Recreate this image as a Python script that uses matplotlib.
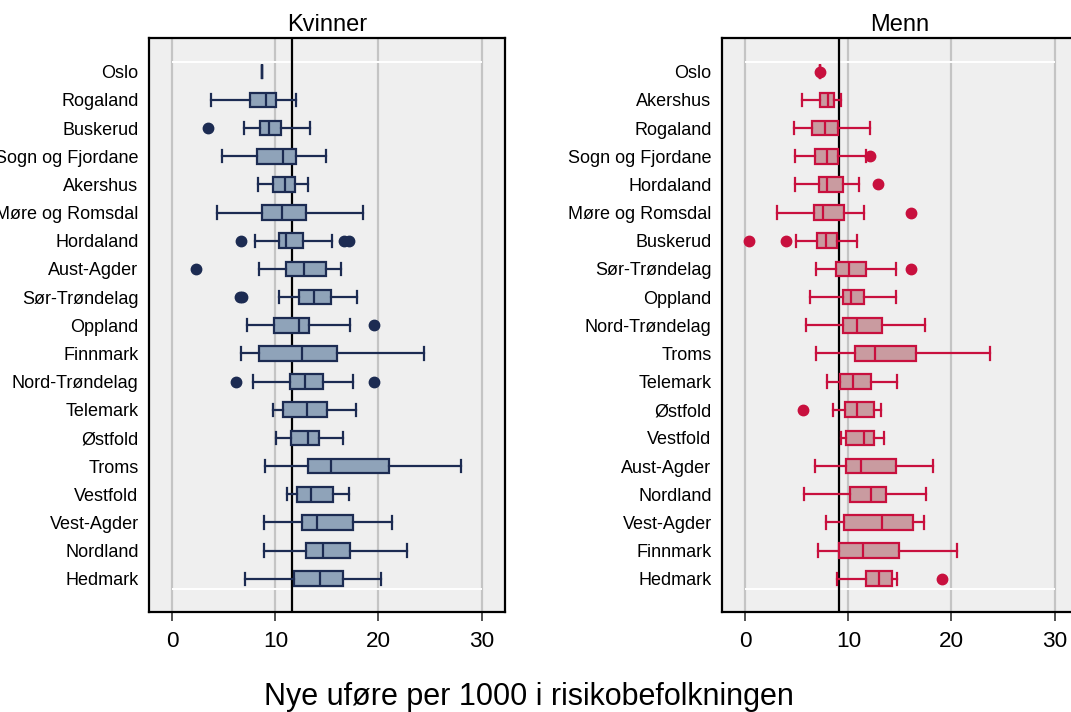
import matplotlib
matplotlib.use("Agg")
import matplotlib.pyplot as plt

plt.rcParams['font.family'] = ['Liberation Sans', 'DejaVu Sans']

# ---------------- data ----------------
# Kvinner: order top -> bottom
k_names = ["Oslo", "Rogaland", "Buskerud", "Sogn og Fjordane", "Akershus",
           "Møre og Romsdal", "Hordaland", "Aust-Agder", "Sør-Trøndelag",
           "Oppland", "Finnmark", "Nord-Trøndelag", "Telemark", "Østfold",
           "Troms", "Vestfold", "Vest-Agder", "Nordland", "Hedmark"]
k_whislo = [8.70, 3.78, 6.92, 4.85, 8.34, 4.33, 8.02, 8.44, 10.38, 7.24, 6.63, 7.82, 9.76, 10.02, 9.02, 11.09, 8.86, 8.86, 7.05]
k_q1     = [8.70, 7.50, 8.50, 8.18, 9.76, 8.73, 10.35, 11.02, 12.32, 9.89, 8.37, 11.45, 10.70, 11.51, 13.13, 12.09, 12.54, 12.93, 11.83]
k_med    = [8.70, 9.05, 9.38, 10.77, 10.93, 10.64, 10.99, 12.74, 13.77, 12.25, 12.61, 12.90, 13.03, 13.19, 15.36, 13.42, 14.00, 14.61, 14.35]
k_q3     = [8.70, 10.09, 10.57, 11.96, 11.90, 12.93, 12.64, 14.87, 15.39, 13.22, 15.94, 14.58, 15.00, 14.23, 21.02, 15.58, 17.56, 17.23, 16.55]
k_whishi = [8.70, 11.96, 13.32, 14.87, 13.16, 18.49, 15.45, 16.39, 17.88, 17.26, 24.38, 17.52, 17.81, 16.52, 27.97, 17.17, 21.31, 22.76, 20.21]
k_fliers = [[], [], [3.49], [], [], [], [6.69, 16.7, 17.1], [2.26], [6.6, 6.8],
            [19.56], [], [6.14, 19.59], [], [], [], [], [], [], []]
k_ref = 11.64

# Menn: order top -> bottom
m_names = ["Oslo", "Akershus", "Rogaland", "Sogn og Fjordane", "Hordaland",
           "Møre og Romsdal", "Buskerud", "Sør-Trøndelag", "Oppland",
           "Nord-Trøndelag", "Troms", "Telemark", "Østfold", "Vestfold",
           "Aust-Agder", "Nordland", "Vest-Agder", "Finnmark", "Hedmark"]
m_whislo = [7.21, 5.53, 4.75, 4.85, 4.85, 3.07, 4.95, 6.85, 6.30, 5.85, 6.89, 7.95, 8.54, 9.28, 6.76, 5.69, 7.86, 7.05, 8.92]
m_q1     = [7.21, 7.27, 6.47, 6.79, 7.18, 6.69, 6.92, 8.79, 9.44, 9.44, 10.64, 9.21, 9.63, 9.80, 9.80, 10.18, 9.60, 9.09, 11.67]
m_med    = [7.21, 7.99, 7.76, 7.92, 7.89, 7.57, 7.79, 10.05, 10.22, 10.83, 12.61, 10.41, 10.86, 11.54, 11.22, 12.16, 13.26, 11.44, 13.00]
m_q3     = [7.21, 8.63, 8.96, 8.96, 9.51, 9.54, 8.86, 11.67, 11.54, 13.26, 16.59, 12.19, 12.45, 12.51, 14.58, 13.61, 16.23, 14.87, 14.26]
m_whishi = [7.21, 9.28, 12.12, 11.74, 10.99, 11.54, 10.80, 14.61, 14.61, 17.43, 23.76, 14.71, 13.16, 13.42, 18.23, 17.49, 17.33, 20.50, 14.71]
m_fliers = [[7.21], [], [], [12.12], [12.87], [16.07], [0.32, 3.98], [16.10], [],
            [], [], [], [5.56], [], [], [], [], [], [19.04]]
m_ref = 9.07

xticks = [0, 10, 20, 30]
xlabel = "Nye uføre per 1000 i risikobefolkningen"

# ---------------- figure ----------------
W, H = 1071, 712
fig = plt.figure(figsize=(W / 100, H / 100), dpi=100)
fig.patch.set_facecolor("white")

def px_axes(x0, y0, x1, y1):
    return fig.add_axes([x0 / W, 1 - y1 / H, (x1 - x0) / W, (y1 - y0) / H])

ax_k = px_axes(149, 38, 505, 612)
ax_m = px_axes(722, 38, 1078, 612)

def draw_panel(ax, names, wlo, q1, med, q3, whi, fliers, ref, fill, edge, title):
    stats = []
    for i in range(len(names)):
        stats.append(dict(whislo=wlo[i], q1=q1[i], med=med[i], q3=q3[i],
                          whishi=whi[i], fliers=fliers[i], label=names[i]))
    pos = list(range(len(names)))
    ax.set_facecolor("#efefef")
    for x in xticks:
        ax.axvline(x, color="#c4c4c4", lw=1.6, zorder=0)
    ax.hlines([-0.35, len(names) - 1 + 0.35], xticks[0], xticks[-1],
              color="white", lw=1.4, zorder=0.5)
    ax.axvline(ref, color="black", lw=1.6, zorder=1)
    ax.bxp(stats, positions=pos, widths=0.52, capwidths=0.44,
           orientation="horizontal", patch_artist=True, manage_ticks=False,
           boxprops=dict(facecolor=fill, edgecolor=edge, linewidth=1.6),
           medianprops=dict(color=edge, linewidth=1.6),
           whiskerprops=dict(color=edge, linewidth=1.6),
           capprops=dict(color=edge, linewidth=1.6),
           flierprops=dict(marker="o", markerfacecolor=edge, markeredgecolor=edge,
                           markersize=7.5, linestyle="none"),
           zorder=2)
    ax.set_yticks(pos)
    ax.set_yticklabels(names, fontsize=13)
    ax.set_xticks(xticks)
    ax.set_xticklabels([str(t) for t in xticks], fontsize=16.2)
    ax.set_xlim(-2.26, 32.27)
    ax.set_ylim(len(names) - 1 + 1.18, -1.2)
    ax.tick_params(axis="y", length=0, pad=7.5)
    ax.tick_params(axis="x", length=6.5, width=1.2, color="#333333", pad=7.5)
    for s in ax.spines.values():
        s.set_color("black")
        s.set_linewidth(1.6)
    ax.set_title(title, fontsize=17, pad=5)

draw_panel(ax_k, k_names, k_whislo, k_q1, k_med, k_q3, k_whishi, k_fliers, k_ref,
           "#8fa3b9", "#1c2b52", "Kvinner")
draw_panel(ax_m, m_names, m_whislo, m_q1, m_med, m_q3, m_whishi, m_fliers, m_ref,
           "#c99ba0", "#c8103e", "Menn")

fig.text(529 / W, 1 - 697 / H, xlabel, fontsize=22, ha="center", va="center")

fig.savefig("out.png", dpi=100, facecolor="white")
